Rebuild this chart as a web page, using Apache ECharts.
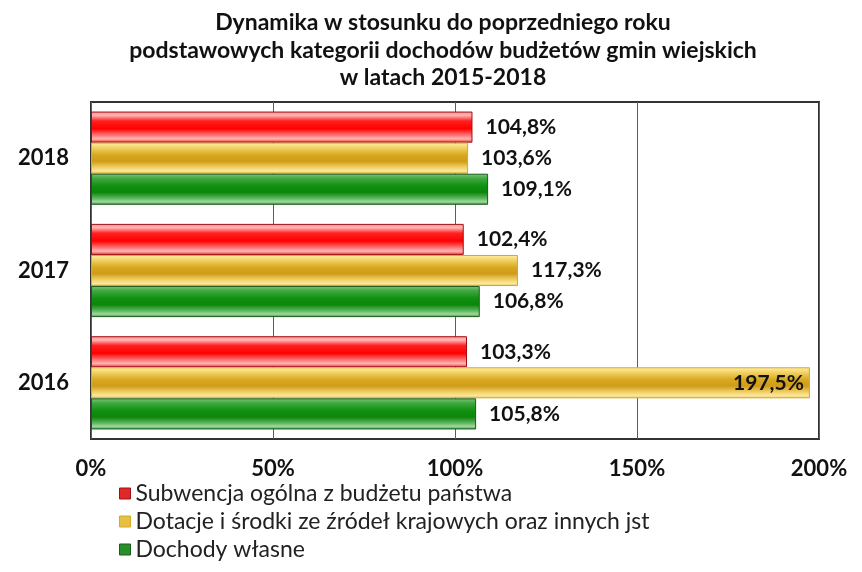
<!DOCTYPE html>
<html><head><meta charset="utf-8">
<script src="https://cdn.jsdelivr.net/npm/echarts@6/dist/echarts.min.js"></script>
<style>html,body{margin:0;padding:0;background:#fff}#c{width:862px;height:572px}</style>
</head><body><div id="c"></div>
<script>
var categories = ['2016', '2017', '2018'];
var seriesNames = ['Subwencja ogólna z budżetu państwa', 'Dotacje i środki ze źródeł krajowych oraz innych jst', 'Dochody własne'];
var subwencja = [103.3, 102.4, 104.8];
var dotacje = [197.5, 117.3, 103.6];
var dochody = [105.8, 106.8, 109.1];
var xTicks = [0, 50, 100, 150, 200];

var FONT = 'Lato, "Open Sans", sans-serif';
function grad(stops){
  return new echarts.graphic.LinearGradient(0,0,0,1, stops.map(function(s){return {offset:s[0], color:s[1]};}));
}
var styles = [
  {color: grad([[0,'#ff8c8c'],[0.12,'#ffb8b8'],[0.3,'#ff2020'],[0.55,'#ff0000'],[0.75,'#ff7070'],[0.88,'#ffb4b4'],[1,'#e83030']]), border:'#a01010', legend:'#e02828'},
  {color: grad([[0,'#fff0a8'],[0.15,'#f4d46a'],[0.4,'#d8a820'],[0.6,'#cf9c18'],[0.8,'#f2d068'],[0.92,'#fae8a0'],[1,'#e0b840']]), border:'#d4a830', legend:'#e8c040'},
  {color: grad([[0,'#80c880'],[0.15,'#40a840'],[0.4,'#109010'],[0.6,'#0c860c'],[0.8,'#60b860'],[0.9,'#a0d8a0'],[1,'#3a9a3a']]), border:'#1a5a1a', legend:'#28902a'}
];
var dataSets = [subwencja, dotacje, dochody];

function fmt(v){ return v.toFixed(1).replace('.', ',') + '%'; }

var series = dataSets.map(function(d, i){
  return {
    name: seriesNames[i],
    type: 'bar',
    barGap: '0%',
    barCategoryGap: '17%',
    data: d.map(function(v){
      var item = {value: v};
      if (v > 180) item.label = {position: 'insideRight', distance: 6};
      return item;
    }),
    itemStyle: {color: styles[i].color, borderColor: styles[i].border, borderWidth: 1},
    label: {show: true, position: 'right', distance: 13, color: '#111', fontFamily: FONT, fontWeight: 'bold', fontSize: 21,
      formatter: function(p){ return fmt(p.value); }}
  };
});

var chart = echarts.init(document.getElementById('c'), null, {renderer: 'canvas'});
chart.setOption({
  animation: false,
  title: {
    text: 'Dynamika w stosunku do poprzedniego roku\npodstawowych kategorii dochodów budżetów gmin wiejskich\nw latach 2015-2018',
    left: 438, textAlign: 'center', top: 4,
    textStyle: {fontFamily: FONT, fontWeight: 'bold', fontSize: 23, lineHeight: 27.5, color: '#111'}
  },
  legend: {
    orient: 'vertical', left: 114, top: 477, itemGap: 5, itemWidth: 11, itemHeight: 11,
    icon: 'rect',
    data: seriesNames.map(function(n, i){ return {name: n, itemStyle: {color: styles[i].legend, borderColor: styles[i].border, borderWidth: 1}}; }),
    textStyle: {fontFamily: FONT, fontSize: 23, color: '#222', padding: [0,0,0,0]}
  },
  grid: {left: 91, right: 43, top: 102, bottom: 133, show: true, borderColor: '#333', borderWidth: 2, backgroundColor: 'transparent'},
  xAxis: {
    type: 'value', min: xTicks[0], max: xTicks[xTicks.length-1], interval: 50,
    axisLine: {show: false}, axisTick: {show: false},
    splitLine: {show: true, lineStyle: {color: '#3f5fa5', width: 1}},
    axisLabel: {margin: 19, color: '#111', fontFamily: FONT, fontWeight: 'bold', fontSize: 22, formatter: function(v){ return v + '%'; }}
  },
  yAxis: {
    type: 'category', data: categories,
    axisLine: {show: false}, axisTick: {show: false},
    axisLabel: {margin: 22, color: '#111', fontFamily: FONT, fontWeight: 'bold', fontSize: 22}
  },
  series: series
});
</script></body></html>
